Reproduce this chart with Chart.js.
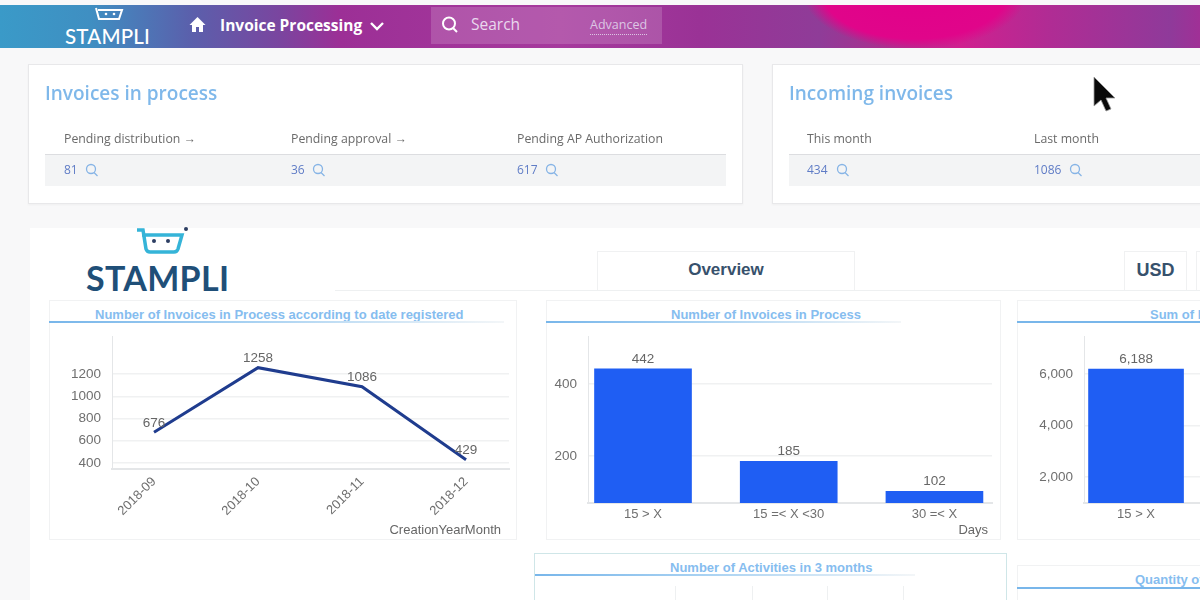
<!DOCTYPE html>
<html><head><meta charset="utf-8">
<script src="https://cdn.jsdelivr.net/npm/chart.js@4"></script>
<style>
html,body{margin:0;padding:0;width:1200px;height:600px;overflow:hidden;background:#f8f8f9}
#page{position:relative;width:1200px;height:600px;overflow:hidden;font-family:"Open Sans",sans-serif;filter:blur(.45px)}
#page div,#page span,#page svg,#page canvas{position:absolute}
.t{white-space:nowrap;line-height:1}
#head{left:0;top:5px;width:1200px;height:43px;background:
 radial-gradient(ellipse 112px 56px at 915px -12px,#e2008a 0%,#e0058a 82%,rgba(224,5,138,0) 100%),
 linear-gradient(90deg,#3a9ac8 0,#3f8fc2 90px,#5a60ac 190px,#7a459f 280px,#9c2f96 340px,#a63a9d 560px,#9a3296 700px,#8f3c98 820px,#a8308f 880px,#d0208f 960px,#b02c94 1050px,#8f3a9a 1170px,#a03096 1200px)}
.card{background:#fff;border:1px solid #e8e8ea;box-sizing:border-box;box-shadow:0 1px 2px rgba(0,0,0,.04)}
.ct{font-size:19px;font-weight:600;color:#7fb8ea}
.th{font-size:12.3px;color:#6a6a6a}
.row{background:#f3f4f5;border-top:1px solid #dcdde0;box-sizing:border-box;height:32px;top:154px}
.v{font-size:12px;color:#5f7cc6;top:164px}
.panel{background:#fff;border:1px solid #f1f2f3;box-sizing:border-box}
.pt{font-family:"Liberation Sans",sans-serif;font-weight:700;font-size:13px;color:#86bdef;white-space:nowrap;line-height:1}
.ul{height:2px;background:linear-gradient(90deg,#78b6ea 0,#a9d2f2 45%,#f3f6f8 100%)}
.tab{background:#fff;border:1px solid #f0f1f2;border-bottom:none;box-sizing:border-box;text-align:center;font-family:"Liberation Sans",sans-serif;font-weight:700;color:#37516c}
</style></head>
<body><div id="page">
<div id="head"></div>

<svg style="left:92px;top:5px" width="42" height="20" viewBox="0 0 42 20"><path d="M4 3l3 11h20l3-9H6" fill="none" stroke="#fff" stroke-width="2"/><circle cx="14" cy="9" r="1.3" fill="#fff"/><circle cx="22" cy="9" r="1.3" fill="#fff"/></svg>
<span class="t" style="left:65px;top:24px;font:500 20.5px Lato,sans-serif;color:#fff;letter-spacing:.2px">STAMPLI</span>
<svg style="left:188px;top:16px" width="19" height="18" viewBox="0 0 19 18"><path d="M9.5 1L1.5 9h2.5v7h4v-5h3v5h4V9h2.500z" fill="#fff"/></svg>
<span class="t" style="left:220px;top:18px;font-size:15.5px;font-weight:700;color:#fff">Invoice Processing</span>
<svg style="left:369px;top:21px" width="16" height="11" viewBox="0 0 16 11"><path d="M2 2l6 6 6-6" fill="none" stroke="#fff" stroke-width="2.400"/></svg>
<div style="left:431px;top:7px;width:231px;height:37px;background:rgba(255,255,255,.16)"></div>
<svg style="left:440px;top:15px" width="20" height="20" viewBox="0 0 20 20"><circle cx="9" cy="8.500" r="6" fill="none" stroke="#fff" stroke-width="2"/><path d="M13 13l4 4" stroke="#fff" stroke-width="2"/></svg>
<span class="t" style="left:471px;top:17px;font-size:15.500px;color:#e9d8ee">Search</span>
<span class="t" style="left:590px;top:19px;font-size:12.500px;color:#dcc6e4;border-bottom:1px dotted #dcc6e4;padding-bottom:2px">Advanced</span>

<div class="card" style="left:28px;top:64px;width:715px;height:140px"></div>
<span class="t ct" style="left:45px;top:84px">Invoices in process</span>
<span class="t th" style="left:64px;top:133px">Pending distribution →</span>
<span class="t th" style="left:291px;top:133px">Pending approval →</span>
<span class="t th" style="left:517px;top:133px">Pending AP Authorization</span>
<div class="row" style="left:45px;width:681px"></div>
<span class="t v" style="left:64px">81</span>
<span class="t v" style="left:291px">36</span>
<span class="t v" style="left:517px">617</span>

<div class="card" style="left:772px;top:64px;width:440px;height:140px"></div>
<span class="t ct" style="left:789px;top:84px">Incoming invoices</span>
<span class="t th" style="left:807px;top:133px">This month</span>
<span class="t th" style="left:1034px;top:133px">Last month</span>
<div class="row" style="left:789px;width:420px"></div>
<span class="t v" style="left:807px">434</span>
<span class="t v" style="left:1034px">1086</span>

<svg id="mags" style="left:0;top:0" width="1200" height="210"></svg>

<svg style="left:1090px;top:74px" width="32" height="42" viewBox="0 0 32 42"><path d="M4 3v29l7-6 5 11 5-2-5-11h9z" fill="#0a0a0a" stroke="#999" stroke-width=".8"/></svg>

<div style="left:30px;top:228px;width:1170px;height:372px;background:#fff"></div>
<svg style="left:134px;top:226px" width="56" height="30" viewBox="0 0 56 30"><path d="M3 4l6 0 3 19q1 3 4 3h24q3 0 4-3l4-14H8" fill="none" stroke="#35b4d8" stroke-width="3.500"/><circle cx="20" cy="15" r="2" fill="#2c3e63"/><circle cx="34" cy="15" r="2" fill="#2c3e63"/><circle cx="52" cy="3" r="2" fill="#2c3e63"/></svg>
<span class="t" style="left:86px;top:257px;font:700 34px Lato,sans-serif;color:#1f4f78;letter-spacing:.3px">STAMPLI</span>
<div style="left:335px;top:290px;width:865px;height:1px;background:#eef0f1"></div>
<div class="tab" style="left:597px;top:251px;width:258px;height:39px;font-size:17px;line-height:35px">Overview</div>
<div class="tab" style="left:1124px;top:251px;width:63px;height:39px;font-size:18px;line-height:37px">USD</div>
<div class="tab" style="left:1196px;top:251px;width:30px;height:39px"></div>

<div class="panel" style="left:49px;top:300px;width:468px;height:240px"></div>
<span class="pt" style="left:95px;top:308px">Number of Invoices in Process according to date registered</span>
<div class="ul" style="left:49px;top:321px;width:455px"></div>

<div class="panel" style="left:546px;top:300px;width:455px;height:240px"></div>
<span class="pt" style="left:671px;top:308px">Number of Invoices in Process</span>
<div class="ul" style="left:546px;top:321px;width:355px"></div>

<div class="panel" style="left:1017px;top:300px;width:220px;height:240px"></div>
<span class="pt" style="left:1150px;top:308px">Sum of Invoices in Process</span>
<div class="ul" style="left:1017px;top:321px;width:183px;background:#78b6ea"></div>

<canvas id="c1" width="468" height="223" style="left:49px;top:317px"></canvas>
<canvas id="c2" width="455" height="223" style="left:546px;top:317px"></canvas>
<canvas id="c3" width="183" height="223" style="left:1017px;top:317px"></canvas>

<div class="panel" style="left:534px;top:553px;width:473px;height:60px;border-color:#cfe6e8"></div>
<span class="pt" style="left:670px;top:561px">Number of Activities in 3 months</span>
<div class="ul" style="left:535px;top:574px;width:380px"></div>
<div style="left:675px;top:586px;width:1px;height:14px;background:#eef0f1"></div>
<div style="left:752px;top:586px;width:1px;height:14px;background:#eef0f1"></div>
<div style="left:827px;top:586px;width:1px;height:14px;background:#eef0f1"></div>
<div style="left:903px;top:586px;width:1px;height:14px;background:#eef0f1"></div>

<div class="panel" style="left:1017px;top:565px;width:220px;height:60px"></div>
<span class="pt" style="left:1135px;top:573px">Quantity of Invoices</span>
<div class="ul" style="left:1017px;top:587px;width:183px;background:#78b6ea"></div>
</div>

<script>
const lineCategories = ['2018-09','2018-10','2018-11','2018-12'];
const lineValues = [676,1258,1086,429];
const lineYTicks = [400,600,800,1000,1200];
const countCategories = ['15 > X','15 =< X <30','30 =< X'];
const countValues = [442,185,102];
const countYTicks = [200,400];
const sumCategories = ['15 > X'];
const sumValues = [6188];
const sumYTicks = [2000,4000,6000];

// magnifier glyphs next to the card figures
const magSpots = [[91,170],[318,170],[551,170],[842,170],[1075,170]];
document.getElementById('mags').innerHTML = magSpots.map(([x,y]) =>
  `<circle cx="${x}" cy="${y-1}" r="4.500" fill="none" stroke="#86b4e6" stroke-width="1.300"/><path d="M${x+3} ${y+2.500}l3.500 3.500" stroke="#86b4e6" stroke-width="1.300"/>`).join('');

Chart.defaults.font.family = '"Liberation Sans",sans-serif';
Chart.defaults.font.size = 13.5;
Chart.defaults.color = '#6f6f6f';
Chart.defaults.animation = false;

function valueLabels(g){
  return {
    id:'valueLabels',
    afterDatasetsDraw(chart){
      const ctx = chart.ctx;
      ctx.save();
      ctx.font = '13.5px "Liberation Sans",sans-serif';
      ctx.fillStyle = '#666'; ctx.textAlign = 'center'; ctx.textBaseline = 'middle';
      chart.getDatasetMeta(0).data.forEach((el,i)=>{
        ctx.fillText(g.fmt(chart.data.datasets[0].data[i].y), el.x, el.y - g.gap);
      });
      if (g.caption){
        ctx.textAlign = 'right'; ctx.font = '13px "Liberation Sans",sans-serif';
        ctx.fillText(g.caption, chart.chartArea.right - g.inset, chart.height - 10);
      }
      ctx.restore();
    }
  };
}

function make(id,type,cats,vals,yTicks,g){
  return new Chart(document.getElementById(id),{
    type,
    data:{datasets:[Object.assign({
      data:vals.map((v,i)=>({x:i,y:v}))
    }, g.ds)]},
    plugins:[valueLabels(g)],
    options:{
      responsive:false, devicePixelRatio:1,
      layout:{autoPadding:false,padding:{top:0,right:g.right,left:0,bottom:0}},
      plugins:{legend:{display:false},tooltip:{enabled:false}},
      scales:{
        x:{type:'linear',offset:false,min:g.xMin,max:g.xMax,
          afterBuildTicks:s=>{s.ticks=cats.map((_,i)=>({value:i}));},
          afterFit:s=>{s.height=g.xh;},
          grid:{display:false},border:{color:'#e4e6e8',width:2},
          ticks:{autoSkip:false,minRotation:g.rot,maxRotation:g.rot,padding:g.xPad,font:{size:13},
            callback:v=>cats[v]}},
        y:{type:'linear',min:g.yMin,max:g.yMax,
          afterBuildTicks:s=>{s.ticks=yTicks.map(v=>({value:v}));},
          afterFit:s=>{s.width=g.yw;},
          grid:{color:'#f0f1f2',drawTicks:false,lineWidth:1.500},border:{color:'#e4e6e8'},
          ticks:{padding:11,callback:g.fmt}}
      }
    }
  });
}
const lineDs = {borderColor:'#1f3c8e',borderWidth:3,pointRadius:0,tension:0,fill:false};
const barDs = {backgroundColor:'#1f5ef3',barThickness:97};
make('c1','line',lineCategories,lineValues,lineYTicks,{ds:lineDs,right:8,yw:63,xh:71,rot:45,xPad:-3,gap:9,
  xMin:-0.404,xMax:3.413,yMin:346,yMax:1542,fmt:v=>String(v),caption:'CreationYearMonth',inset:8});
make('c2','bar',countCategories,countValues,countYTicks,{ds:barDs,right:9,yw:42,xh:37,rot:0,xPad:-4,gap:10,
  xMin:-0.3775,xMax:2.395,yMin:69.4,yMax:533,fmt:v=>String(v),caption:'Days',inset:4});
make('c3','bar',sumCategories,sumValues,sumYTicks,{ds:Object.assign({},barDs,{barThickness:95}),right:0,yw:67,xh:37,rot:0,xPad:-4,gap:10,
  xMin:-0.362,xMax:0.445,yMin:992,yMax:7473,fmt:v=>v.toLocaleString('en-US')});
</script>
</body></html>
